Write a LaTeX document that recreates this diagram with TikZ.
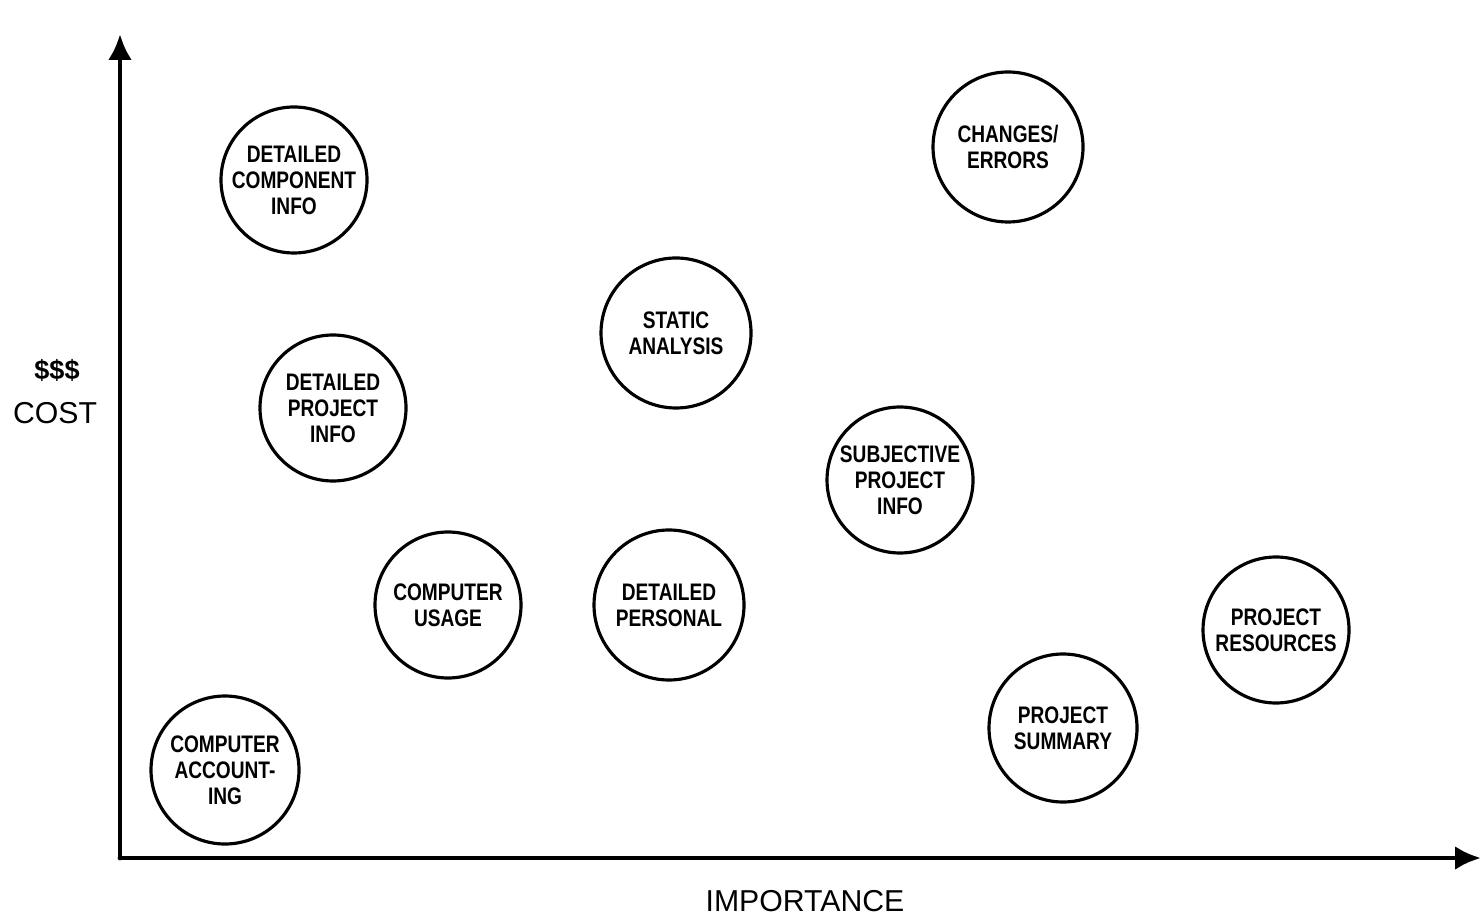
\documentclass[tikz,border=0pt]{standalone}
\usepackage{fontspec}
\setmainfont{Liberation Sans}
\newfontfamily\cond[FakeStretch=0.8]{Liberation Sans}
\usetikzlibrary{arrows.meta}

\begin{document}
\begin{tikzpicture}[
    line cap=round, line join=round,
    axis/.style={line width=1.4pt, -{Latex[length=2.6mm,width=2.4mm]}},
    item/.style={circle, draw, line width=0.9pt, inner sep=0pt, align=center,
                 font=\cond\bfseries\fontsize{6.8}{7.4}\selectfont},
    lbl/.style={font=\fontsize{8.6}{10}\selectfont},
  ]
  \useasboundingbox (0,0) rectangle (14.82,9.18);

  % ---- axes -------------------------------------------------
  \coordinate (O)    at ( 1.20, 0.60);   % origin
  \coordinate (YTOP) at ( 1.20, 8.84);   % cost axis tip
  \coordinate (XEND) at (14.81, 0.60);   % importance axis tip
  \draw[axis] (O) -- (YTOP);
  \draw[axis] (O) -- (XEND);

  % ---- items ------------------------------------------------
  \node[item, minimum size=14.6mm] (dci) at ( 2.94, 7.38) {DETAILED\\COMPONENT\\INFO};
  \node[item, minimum size=15.0mm] (ce)  at (10.08, 7.71) {CHANGES/\\ERRORS};
  \node[item, minimum size=15.0mm] (sa)  at ( 6.76, 5.85) {STATIC\\ANALYSIS};
  \node[item, minimum size=14.6mm] (dpi) at ( 3.33, 5.10) {DETAILED\\PROJECT\\INFO};
  \node[item, minimum size=14.6mm] (spi) at ( 9.00, 4.38) {SUBJECTIVE\\PROJECT\\INFO};
  \node[item, minimum size=14.6mm] (cu)  at ( 4.48, 3.13) {COMPUTER\\USAGE};
  \node[item, minimum size=15.0mm] (dp)  at ( 6.69, 3.13) {DETAILED\\PERSONAL};
  \node[item, minimum size=14.6mm] (pr)  at (12.76, 2.88) {PROJECT\\RESOURCES};
  \node[item, minimum size=14.8mm] (ps)  at (10.63, 1.90) {PROJECT\\SUMMARY};
  \node[item, minimum size=14.8mm] (ca)  at ( 2.25, 1.48) {COMPUTER\\ACCOUNT-\\ING};

  % ---- axis labels ------------------------------------------
  \node[font=\bfseries\fontsize{7.7}{9}\selectfont] (dol) at (0.57, 5.48) {\$\$\$};
  \node[lbl] (cost) at (0.55, 5.05) {COST};
  \node[lbl] (imp)  at (8.05, 0.17) {IMPORTANCE};

\end{tikzpicture}
\end{document}
